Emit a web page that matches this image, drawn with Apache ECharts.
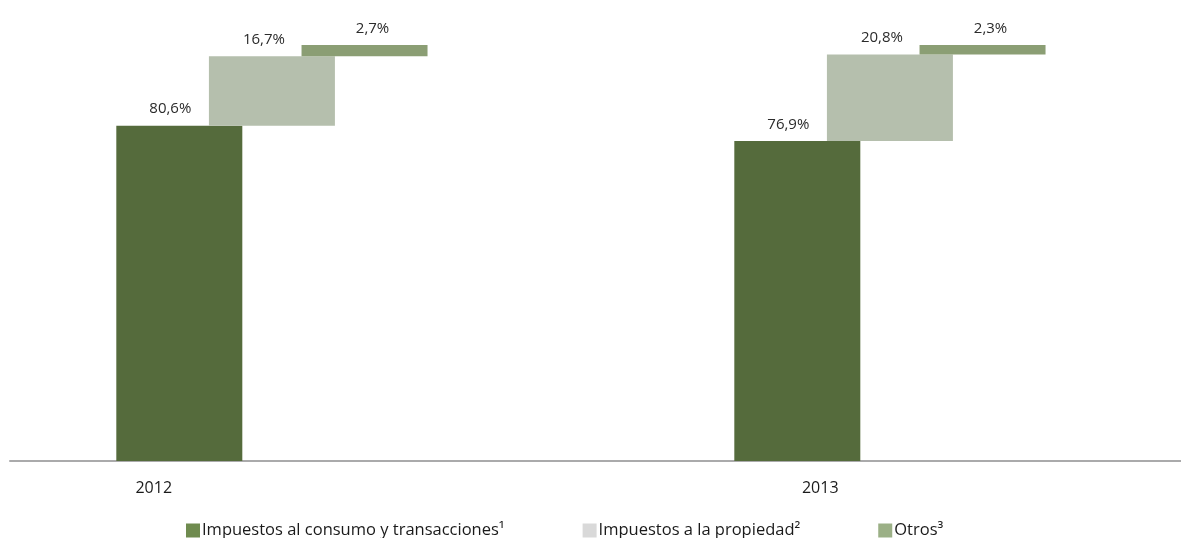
<!DOCTYPE html>
<html>
<head>
<meta charset="utf-8">
<script src="https://cdn.jsdelivr.net/npm/echarts@6/dist/echarts.min.js"></script>
<style>
  html, body { margin: 0; padding: 0; background: #fff; }
  #chart { width: 1181px; height: 538px; }
</style>
</head>
<body>
<div id="chart"></div>
<script>
const years = ['2012', '2013'];
const consumo = [80.6, 76.9];
const propiedad = [16.7, 20.8];
const otros = [2.7, 2.3];
const seriesNames = ['Impuestos al consumo y transacciones¹', 'Impuestos a la propiedad²', 'Otros³'];

// floating bars: each piece starts where the previous one ends
const base2 = consumo.slice();
const base3 = consumo.map((v, i) => v + propiedad[i]);
// value first so that it is the stacked dimension
const pairs = arr => arr.map((v, i) => [v, Number(years[i])]);

const FONT = '"Open Sans", sans-serif';
const fmt = p => p.value[0].toFixed(1).replace('.', ',') + '%';

const makeLabel = dx => ({
  show: true, position: 'top', distance: 9, offset: [dx, 0],
  formatter: fmt, color: '#2b2b2b', fontSize: 15, fontFamily: FONT
});

const barCommon = {
  type: 'bar', barWidth: 126, barGap: '-26.5%', xAxisIndex: 0, yAxisIndex: 0,
  encode: { x: 1, y: 0 }
};

const chart = echarts.init(document.getElementById('chart'));
chart.setOption({
  animation: false,
  textStyle: { fontFamily: FONT },
  grid: [
    { left: 0, right: 0, top: 45, bottom: 77 },
    { left: 10, right: 0, top: 45, bottom: 77 }
  ],
  xAxis: [
    { type: 'value', gridIndex: 0, min: 2011.56, max: 2013.471, show: false },
    {
      type: 'category', data: years, gridIndex: 1,
      axisLine: { show: true, lineStyle: { color: '#aaaaab', width: 2 } },
      axisTick: { show: false },
      axisLabel: {
        margin: 19, color: '#1a1a1a', fontSize: 16,
        formatter: v => '{y' + v + '|' + v + '}',
        rich: {
          y2012: { padding: [0, 298, 0, 0], fontSize: 16, color: '#1a1a1a' },
          y2013: { padding: [0, 136, 0, 0], fontSize: 16, color: '#1a1a1a' }
        }
      }
    }
  ],
  yAxis: [
    { type: 'value', gridIndex: 0, min: 0, max: 100, show: false },
    { type: 'value', gridIndex: 1, min: 0, max: 100, show: false }
  ],
  legend: {
    top: 517, left: 181, itemWidth: 14, itemHeight: 14, itemGap: 78,
    icon: 'rect',
    textStyle: { color: '#1a1a1a', fontSize: 16.5, fontFamily: FONT, padding: [0, 0, 0, -3] },
    data: [
      { name: seriesNames[0], itemStyle: { color: '#6f8b4f' } },
      { name: seriesNames[1], itemStyle: { color: '#d9d9d9' } },
      { name: seriesNames[2], itemStyle: { color: '#9bb086' } }
    ]
  },
  series: [
    Object.assign({ name: seriesNames[0], stack: 's1', data: pairs(consumo),
      itemStyle: { color: '#556b3c' }, label: makeLabel(-9) }, barCommon),
    Object.assign({ name: 'base2', stack: 's2', data: pairs(base2),
      itemStyle: { color: 'transparent' }, silent: true }, barCommon),
    Object.assign({ name: seriesNames[1], stack: 's2', data: pairs(propiedad),
      itemStyle: { color: '#b5bfad' }, label: makeLabel(-8) }, barCommon),
    Object.assign({ name: 'base3', stack: 's3', data: pairs(base3),
      itemStyle: { color: 'transparent' }, silent: true }, barCommon),
    Object.assign({ name: seriesNames[2], stack: 's3', data: pairs(otros),
      itemStyle: { color: '#8b9e74' }, label: makeLabel(8) }, barCommon)
  ]
});
</script>
</body>
</html>
